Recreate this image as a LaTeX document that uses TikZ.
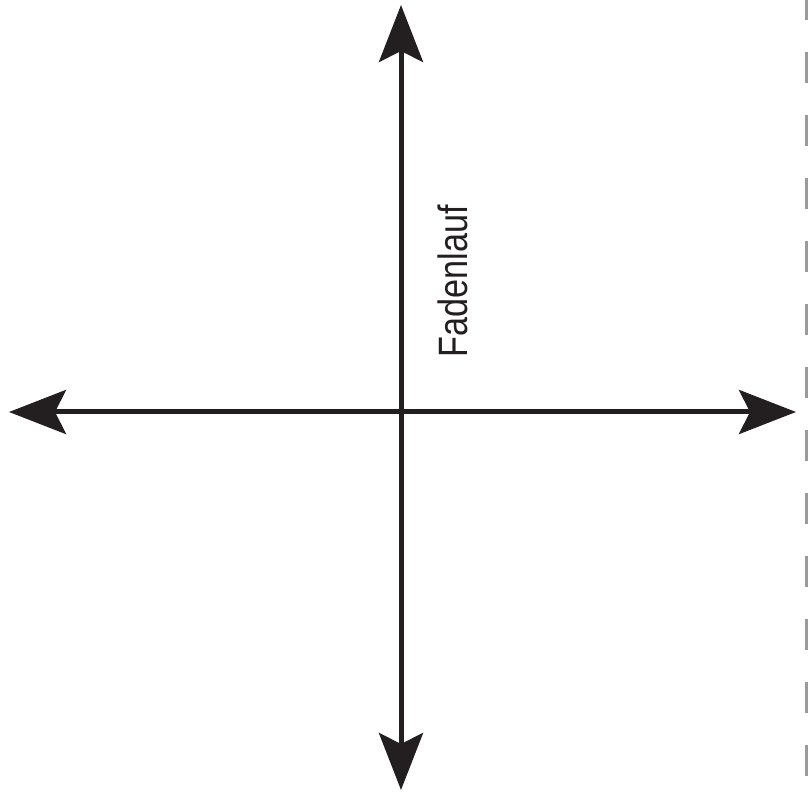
\documentclass[tikz,border=0pt]{standalone}
\usepackage{fontspec}
\setmainfont{Liberation Sans}
\usetikzlibrary{arrows.meta}
\definecolor{figA}{HTML}{231F20}
\definecolor{figB}{HTML}{9A9A9A}

\begin{document}
\begin{tikzpicture}[x=1pt,y=1pt,>={Stealth[length=57pt,width=44pt,inset=11pt]}]
\useasboundingbox (0,0) rectangle (808,792);
\clip (0,0) rectangle (808,792);
\coordinate (north) at (401,787);
\coordinate (south) at (401,2);
\coordinate (west) at (9,380);
\coordinate (east) at (796,380);
\draw[<->,line width=5pt,figA] (west) -- (east);
\draw[<->,line width=5pt,figA] (south) -- (north);
\node[rotate=90,figA,inner sep=0pt] (grain) at (453,511)
  {\fontsize{41}{41}\selectfont\scalebox{0.835}[1]{Fadenlauf}};
\coordinate (cuttop) at (806.5,803);
\coordinate (cutbottom) at (806.5,-10);
\draw[figB,line width=3pt,dash pattern=on 31pt off 32pt] (cuttop) -- (cutbottom);
\end{tikzpicture}
\end{document}
